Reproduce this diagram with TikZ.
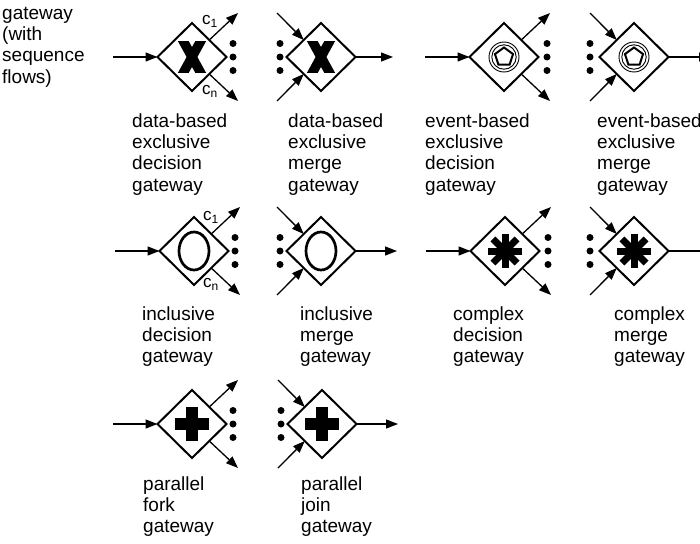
\documentclass[tikz,border=0pt]{standalone}
\usepackage{fontspec}
\setmainfont{Liberation Sans}
\usetikzlibrary{shapes.geometric,arrows.meta}

\tikzset{
  gw/.style={draw, diamond, line width=2pt, minimum width=69pt, minimum height=68pt,
             inner sep=0pt, outer sep=0pt, fill=white},
  flow/.style={line width=1.3pt, -{Triangle[length=12pt,width=9pt]}},
  dotmark/.style={circle, fill, inner sep=0pt, minimum size=7pt},
  % multi-line labels are placed by the baseline of their last line
  lbl/.style={anchor=base west, align=left, inner sep=0pt, font=\fontsize{19}{21.3}\selectfont},
  cond/.style={anchor=base west, inner sep=0pt, font=\fontsize{17}{17}\selectfont},
  ring/.style={line width=0.9pt},
  pent/.style={regular polygon, regular polygon sides=5, draw, line width=2pt,
               minimum size=19pt, inner sep=0pt},
}

% decision gateway: one flow in from the left, two flows out to the right
\newcommand\decgw[4]{% name, cx, cy, dot offset
  \node[gw] (#1) at (#2,#3) {};
  \coordinate (#1-src) at (#2-79,#3);
  \coordinate (#1-up) at (#2+46,#3-44);
  \coordinate (#1-dn) at (#2+46,#3+44);
  \draw[flow] (#1-src) -- (#1.west);
  \draw[flow] (#1.north east) -- (#1-up);
  \draw[flow] (#1.south east) -- (#1-dn);
  \node[dotmark] (#1-d1) at (#2+#4,#3-13.5) {};
  \node[dotmark] (#1-d2) at (#2+#4,#3) {};
  \node[dotmark] (#1-d3) at (#2+#4,#3+13.5) {};
}
% merge gateway: two flows in from the left, one flow out to the right
\newcommand\mrggw[5]{% name, cx, cy, dot offset, out length
  \node[gw] (#1) at (#2,#3) {};
  \coordinate (#1-srcA) at (#2-44,#3-44);
  \coordinate (#1-srcB) at (#2-44,#3+44);
  \coordinate (#1-out) at (#2+#5,#3);
  \draw[flow] (#1-srcA) -- (#1.north west);
  \draw[flow] (#1-srcB) -- (#1.south west);
  \draw[flow] (#1.east) -- (#1-out);
  \node[dotmark] (#1-d1) at (#2-#4,#3-13.5) {};
  \node[dotmark] (#1-d2) at (#2-#4,#3) {};
  \node[dotmark] (#1-d3) at (#2-#4,#3+13.5) {};
}
% gateway markers
\newcommand\mkX[3]{% heavy X with flat top and bottom ends
  \begin{scope}
    \clip (#2-15,#3-15.5) rectangle (#2+15,#3+15.5);
    \draw[line width=9.5pt] (#2-11.5,#3-21) -- (#2+11.5,#3+21)
                            (#2+11.5,#3-21) -- (#2-11.5,#3+21);
  \end{scope}
}
\newcommand\mkEvent[3]{%
  \draw[ring] (#2,#3) circle (15pt);
  \draw[ring] (#2,#3) circle (12.2pt);
  \node[pent] (#1) at (#2,#3) {};
}
\newcommand\mkIncl[3]{\draw[line width=2.7pt] (#2,#3) ellipse [x radius=15pt, y radius=19pt];}
\newcommand\mkCplx[3]{%
  \foreach \a in {0,45,90,135}
    \draw[line width=7pt] (#2,#3) ++(\a:17) -- ++(\a+180:34);
  \fill (#2,#3) circle (8pt);
}
\newcommand\mkPar[3]{%
  \draw[line width=12pt] (#2-17,#3) -- (#2+17,#3) (#2,#3-17) -- (#2,#3+17);
}

\begin{document}
\begin{tikzpicture}[x=1pt, y=-1pt]
  \fill[white] (0,0) rectangle (700,543);
  \useasboundingbox (0,0) rectangle (700,543);

  \node[lbl] (title) at (2,83) {gateway\\(with\\sequence\\flows)};

  % row 1: exclusive gateways
  \decgw{dx}{192}{57}{41}
  \mkX{dxm}{192}{57}
  \node[cond] (dxc1) at (202,25) {c\raisebox{-3pt}{\fontsize{12}{12}\selectfont 1}};
  \node[cond] (dxcn) at (202,94) {c\raisebox{-3pt}{\fontsize{12}{12}\selectfont n}};
  \node[lbl] (dxl) at (132,191) {data-based\\exclusive\\decision\\gateway};

  \mrggw{mx}{321}{57}{41}{72}
  \mkX{mxm}{321}{57}
  \node[lbl] (mxl) at (288,191) {data-based\\exclusive\\merge\\gateway};

  \decgw{de}{504}{57}{43}
  \mkEvent{dem}{504}{57}
  \node[lbl] (del) at (425,191) {event-based\\exclusive\\decision\\gateway};

  \mrggw{me}{634}{57}{44}{77}
  \mkEvent{mem}{634}{57}
  \node[lbl] (mel) at (597,191) {event-based\\exclusive\\merge\\gateway};

  % row 2: inclusive and complex gateways
  \decgw{di}{194}{251}{41}
  \mkIncl{dim}{194}{251}
  \node[cond] (dic1) at (203,220) {c\raisebox{-3pt}{\fontsize{12}{12}\selectfont 1}};
  \node[cond] (dicn) at (203,287) {c\raisebox{-3pt}{\fontsize{12}{12}\selectfont n}};
  \node[lbl] (dil) at (142,362.6) {inclusive\\decision\\gateway};

  \mrggw{mi}{321}{251}{41}{76}
  \mkIncl{mim}{321}{251}
  \node[lbl] (mil) at (300,362.6) {inclusive\\merge\\gateway};

  \decgw{dc}{505}{251}{43}
  \mkCplx{dcm}{505}{251}
  \node[lbl] (dcl) at (453,362.6) {complex\\decision\\gateway};

  \mrggw{mc}{634}{251}{44}{82}
  \mkCplx{mcm}{634}{251}
  \node[lbl] (mcl) at (614,362.6) {complex\\merge\\gateway};

  % row 3: parallel gateways
  \decgw{dp}{192}{424}{41}
  \mkPar{dpm}{192}{424}
  \node[lbl] (dpl) at (143,532.6) {parallel\\fork\\gateway};

  \mrggw{mp}{322}{424}{41}{76}
  \mkPar{mpm}{322}{424}
  \node[lbl] (mpl) at (301,532.6) {parallel\\join\\gateway};
\end{tikzpicture}
\end{document}
